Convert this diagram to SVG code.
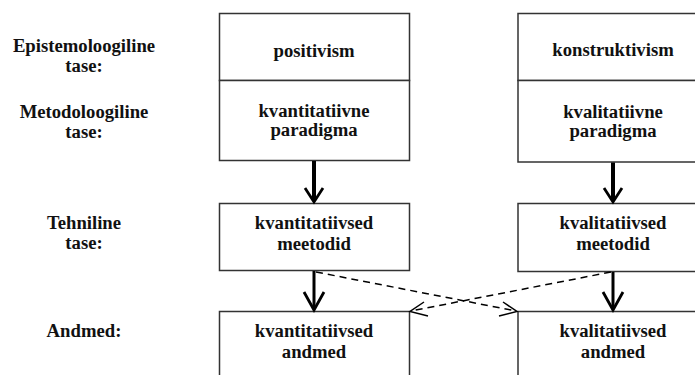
<svg xmlns="http://www.w3.org/2000/svg" width="695" height="375" viewBox="0 0 695 375">
<style>
  text { font-family: 'Liberation Serif', 'Times New Roman', 'DejaVu Serif', serif; font-weight: 700; font-size: 18.7px; fill: #111; text-anchor: middle; }
  .box { fill: #fff; stroke: #333; stroke-width: 1.5; }
  .thick { stroke: #000; stroke-width: 4; fill: none; }
  .med { stroke: #000; stroke-width: 3; fill: none; }
  .head { stroke: #000; stroke-width: 2.8; fill: none; }
  .dash { stroke: #000; stroke-width: 1.5; fill: none; stroke-dasharray: 7 5; }
  .dhead { stroke: #000; stroke-width: 1.5; fill: none; }
</style>
<rect width="695" height="375" fill="#fff"/>
<g id="labels">
  <text x="84" y="52">Epistemoloogiline</text>
  <text x="84" y="72">tase:</text>
  <text x="84" y="118">Metodoloogiline</text>
  <text x="84" y="138">tase:</text>
  <text x="84" y="229">Tehniline</text>
  <text x="84" y="249">tase:</text>
  <text x="84" y="337">Andmed:</text>
</g>
<g id="positivism">
  <rect class="box" x="219.5" y="13.5" width="190" height="67"/>
  <text x="314" y="57">positivism</text>
</g>
<g id="kvant-paradigma">
  <rect class="box" x="219.5" y="80.5" width="190" height="80"/>
  <text x="314" y="117">kvantitatiivne</text>
  <text x="314" y="136">paradigma</text>
</g>
<g id="kvant-meetodid">
  <rect class="box" x="219.5" y="203.5" width="190" height="67"/>
  <text x="314" y="229">kvantitatiivsed</text>
  <text x="314" y="250">meetodid</text>
</g>
<g id="kvant-andmed">
  <rect class="box" x="219.5" y="311.5" width="190" height="80"/>
  <text x="314" y="337">kvantitatiivsed</text>
  <text x="314" y="358">andmed</text>
</g>
<g id="konstruktivism">
  <rect class="box" x="518" y="13.5" width="190" height="67"/>
  <text x="613" y="56">konstruktivism</text>
</g>
<g id="kval-paradigma">
  <rect class="box" x="518" y="80.5" width="190" height="81.5"/>
  <text x="613" y="118">kvalitatiivne</text>
  <text x="613" y="137">paradigma</text>
</g>
<g id="kval-meetodid">
  <rect class="box" x="518" y="203.5" width="190" height="68"/>
  <text x="613" y="229">kvalitatiivsed</text>
  <text x="613" y="250">meetodid</text>
</g>
<g id="kval-andmed">
  <rect class="box" x="518" y="311.5" width="190" height="80"/>
  <text x="613" y="337">kvalitatiivsed</text>
  <text x="613" y="358">andmed</text>
</g>
<g id="connectors">
  <line class="thick" x1="314" y1="161" x2="314" y2="201"/>
  <polyline class="head" points="305,188 314,202 323,188"/>
  <line class="thick" x1="613" y1="162.5" x2="613" y2="201"/>
  <polyline class="head" points="604,188 613,202 622,188"/>
  <line class="med" x1="314" y1="271" x2="314" y2="309"/>
  <polyline class="head" points="304,292 314,310 324,292"/>
  <line class="med" x1="613" y1="272" x2="613" y2="309"/>
  <polyline class="head" points="603,292 613,310 623,292"/>
  <line class="dash" x1="316" y1="272" x2="516" y2="311"/>
  <polyline class="dhead" points="499,316 517,311.5 503,302"/>
  <line class="dash" x1="611" y1="272" x2="411" y2="311"/>
  <polyline class="dhead" points="428,316 410,311.5 424,302"/>
</g>
</svg>
